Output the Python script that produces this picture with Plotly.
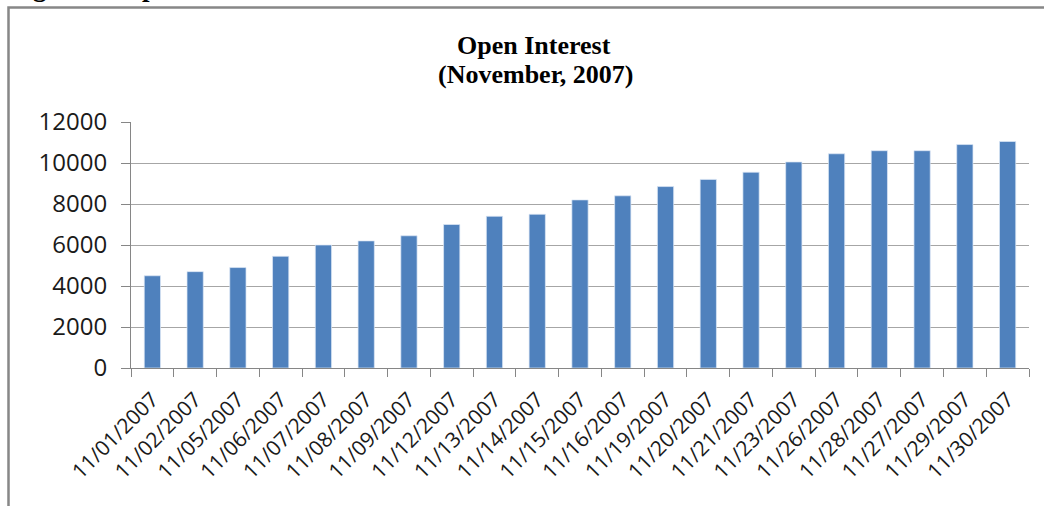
import plotly.graph_objects as go

# ---- data ----
dates = ["11/01/2007", "11/02/2007", "11/05/2007", "11/06/2007", "11/07/2007",
         "11/08/2007", "11/09/2007", "11/12/2007", "11/13/2007", "11/14/2007",
         "11/15/2007", "11/16/2007", "11/19/2007", "11/20/2007", "11/21/2007",
         "11/23/2007", "11/26/2007", "11/28/2007", "11/27/2007", "11/29/2007",
         "11/30/2007"]
open_interest = [4500, 4700, 4900, 5450, 6000, 6200, 6450, 7000, 7400, 7500,
                 8200, 8400, 8850, 9200, 9550, 10050, 10450, 10600, 10600, 10900,
                 11050]
y_ticks = [0, 2000, 4000, 6000, 8000, 10000, 12000]
y_tick_labels = [str(v) for v in y_ticks]
title_lines = ["Open Interest", "(November, 2007)"]
caption = "Figure 4: Open Interest for November 2007"

# ---- layout geometry (pixels) ----
W, H = 1044, 506
L, R, T, B = 131, 15, 122, 138
PW, PH = W - L - R, H - T - B


def xp(px):
    return (px - L) / PW


def yp(py):
    return (H - B - py) / PH


fig = go.Figure(go.Bar(
    x=dates, y=open_interest,
    marker=dict(color="#4F81BD", line=dict(color="rgba(220,232,245,0.9)", width=0.8)),
    showlegend=False,
))

axis_col = "#868686"
grid_col = "#a6a6a6"
sans = "'Open Sans', 'Liberation Sans', sans-serif"
serif = "'Liberation Serif', 'Times New Roman', serif"

fig.update_layout(
    width=W, height=H, autosize=False,
    margin=dict(l=L, r=R, t=T, b=B, pad=0),
    paper_bgcolor="white", plot_bgcolor="white",
    bargap=0.62,
    xaxis=dict(type="category", range=[-0.5, len(dates) - 0.5],
               tickson="boundaries", ticks="outside", ticklen=8, tickcolor=axis_col,
               tickwidth=1, showline=True, linecolor=axis_col, linewidth=1,
               showgrid=False, tickangle=-45,
               tickfont=dict(family=sans, size=21, color="#1a1a1a"),
               ticklabelstandoff=10),
    yaxis=dict(range=[0, 12000], tickvals=y_ticks, ticktext=y_tick_labels,
               ticks="outside", ticklen=9,
               tickcolor=axis_col, tickwidth=1, showline=True, linecolor=axis_col,
               linewidth=1, showgrid=True, gridcolor=grid_col, gridwidth=1,
               zeroline=False, tickfont=dict(family=sans, size=24, color="#1a1a1a"),
               ticklabelstandoff=9),
    annotations=[
        dict(text=title_lines[0], xref="paper", yref="paper",
             x=xp(534), y=yp(45), xanchor="center", yanchor="middle",
             showarrow=False,
             font=dict(family=serif, size=26, color="black", weight="bold")),
        dict(text=title_lines[1], xref="paper", yref="paper",
             x=xp(535), y=yp(75), xanchor="center", yanchor="middle",
             showarrow=False,
             font=dict(family=serif, size=26, color="black", weight="bold")),
        dict(text=caption, xref="paper", yref="paper",
             x=xp(8), y=yp(3.5), xanchor="left", yanchor="bottom",
             showarrow=False, borderpad=0,
             font=dict(family=serif, size=27, color="black", weight="bold")),
    ],
    shapes=[
        dict(type="path", xref="paper", yref="paper",
             path=f"M {xp(8.5)} {yp(520)} L {xp(8.5)} {yp(7.5)} L {xp(1060)} {yp(7.5)}",
             line=dict(color="#878787", width=2.5)),
    ],
)

fig.write_html("out.html",
               config={"displayModeBar": False},
               post_script="document.body.style.margin='0px';document.body.style.padding='0px';")
